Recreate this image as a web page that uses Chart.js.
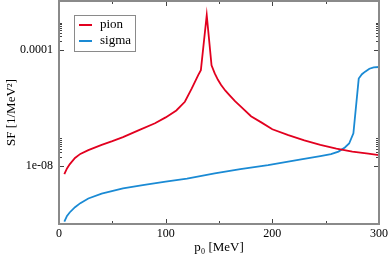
<!DOCTYPE html>
<html>
<head>
<meta charset="utf-8">
<script src="https://cdn.jsdelivr.net/npm/chart.js@4/dist/chart.umd.min.js"></script>
<style>
  html, body { margin: 0; padding: 0; background: #fff; }
  canvas { display: block; }
</style>
</head>
<body>
<canvas id="sfChart" width="390" height="256"></canvas>
<script>
// ---------- Data ----------
const pionP = [5, 7.5, 10, 15, 20, 27.5, 40, 50, 60, 75, 90, 100, 110, 118, 124.5, 130.5, 133, 138.5,
    143, 146, 149, 152, 156, 160, 165, 170, 180, 190, 200, 215, 230, 245, 260, 275, 290, 300];
const pionSF = [5.25e-9, 8.3e-9, 1.15e-8, 1.9e-8, 2.63e-8, 3.55e-8, 5.37e-8, 7.24e-8, 1.0e-7, 1.74e-7,
    3.02e-7, 4.79e-7, 8.3e-7, 1.66e-6, 4.8e-6, 1.38e-5, 2.04e-5, 1.62e-3,
    3.0e-5, 1.58e-5, 9.5e-6, 6.3e-6, 4.0e-6, 2.75e-6, 1.74e-6, 1.17e-6, 5.25e-7, 3.16e-7, 1.86e-7,
    1.17e-7, 7.76e-8, 5.37e-8, 3.98e-8, 3.16e-8, 2.69e-8, 2.4e-8];

const sigmaP = [5, 7.5, 10, 15, 20, 27.5, 40, 60, 80, 100, 120, 146, 170, 196, 227, 245, 255, 262,
    268, 272, 276, 281, 284, 287, 291, 295, 300];
const sigmaSF = [1.2e-10, 1.9e-10, 2.5e-10, 3.8e-10, 5.25e-10, 7.6e-10, 1.12e-9, 1.7e-9, 2.24e-9,
    2.88e-9, 3.7e-9, 5.6e-9, 7.9e-9, 1.07e-8, 1.7e-8, 2.19e-8, 2.57e-8, 3.16e-8,
    4.37e-8, 6.0e-8, 1.35e-7, 1.05e-5, 1.48e-5, 1.82e-5, 2.29e-5, 2.57e-5, 2.63e-5];

const xTicks = [0, 100, 200, 300];
const xMinorTicks = [50, 150, 250];
const yTicks = [1e-8, 1e-4];
const yTickLabels = ["1e-08", "0.0001"];

const FONT = "'Liberation Serif', 'Times New Roman', serif";
const FRAME = "#8a8a8a";

function toPoints(xs, ys) {
    return xs.map((x, i) => ({ x: x, y: ys[i] }));
}

// ---------- Frame, ticks and legend ----------
const framePlugin = {
    id: "frame",
    afterDraw(chart) {
        const ctx = chart.ctx;
        const a = chart.chartArea;
        const xs = chart.scales.x;
        const ys = chart.scales.y;
        ctx.save();

        // inward ticks on all four sides
        ctx.strokeStyle = "#444";
        ctx.lineWidth = 1;
        ctx.beginPath();
        const xTick = (v, len) => {
            const px = Math.round(xs.getPixelForValue(v)) + 0.5;
            ctx.moveTo(px, a.bottom); ctx.lineTo(px, a.bottom - len);
            ctx.moveTo(px, a.top); ctx.lineTo(px, a.top + len);
        };
        const yTick = (v, len) => {
            const py = Math.round(ys.getPixelForValue(v)) + 0.5;
            ctx.moveTo(a.left, py); ctx.lineTo(a.left + len, py);
            ctx.moveTo(a.right, py); ctx.lineTo(a.right - len, py);
        };
        xTicks.forEach(v => xTick(v, 5));
        xMinorTicks.forEach(v => xTick(v, 3));
        yTicks.forEach(v => {
            yTick(v, 5);
            for (let m = 2; m <= 9; m++) yTick(v * m, 3);
        });
        ctx.stroke();

        // frame
        ctx.strokeStyle = FRAME;
        ctx.lineWidth = 2;
        ctx.strokeRect(a.left, a.top, a.right - a.left, a.bottom - a.top);

        // legend box
        ctx.lineWidth = 1;
        ctx.strokeStyle = FRAME;
        ctx.strokeRect(74.5, 15.5, 61, 36);
        ctx.font = "13px " + FONT;
        ctx.fillStyle = "#000";
        ctx.textBaseline = "middle";
        chart.data.datasets.forEach((ds, i) => {
            const y = 25 + i * 16;
            ctx.strokeStyle = ds.borderColor;
            ctx.lineWidth = 2;
            ctx.beginPath();
            ctx.moveTo(79, y); ctx.lineTo(92, y);
            ctx.stroke();
            ctx.fillText(ds.label, 100, y);
        });
        ctx.restore();
    }
};

// ---------- Chart ----------
new Chart(document.getElementById("sfChart"), {
    type: "line",
    data: {
        datasets: [
            { label: "pion", data: toPoints(pionP, pionSF), borderColor: "#e2001f", borderWidth: 1.8, pointRadius: 0, tension: 0 },
            { label: "sigma", data: toPoints(sigmaP, sigmaSF), borderColor: "#1a8ad4", borderWidth: 1.8, pointRadius: 0, tension: 0 }
        ]
    },
    options: {
        responsive: false,
        animation: false,
        events: [],
        layout: { padding: { top: 1, right: 11, left: 0, bottom: 0 } },
        plugins: { legend: { display: false }, tooltip: { enabled: false } },
        scales: {
            x: {
                type: "linear",
                min: 0,
                max: 300,
                afterBuildTicks: s => { s.ticks = xTicks.map(v => ({ value: v })); },
                afterFit: s => { s.height = 32; s.paddingLeft = 0; s.paddingRight = 0; },
                grid: { display: false, drawTicks: false },
                border: { display: false },
                ticks: { color: "#000", font: { family: FONT, size: 12 }, padding: 3, maxRotation: 0 },
                title: { display: true, text: "p₀ [MeV]", color: "#000", font: { family: FONT, size: 13 }, padding: { top: 0, bottom: 1 } }
            },
            y: {
                type: "logarithmic",
                min: 1e-10,
                max: 5e-3,
                afterBuildTicks: s => { s.ticks = yTicks.map(v => ({ value: v })); },
                afterFit: s => { s.width = 59; s.paddingTop = 0; s.paddingBottom = 0; },
                grid: { display: false, drawTicks: false },
                border: { display: false },
                ticks: {
                    color: "#000",
                    font: { family: FONT, size: 12 },
                    padding: 6,
                    callback: v => yTickLabels[yTicks.indexOf(v)]
                },
                title: { display: true, text: "SF [1/MeV²]", color: "#000", font: { family: FONT, size: 13 }, padding: { top: 4, bottom: 0 } }
            }
        }
    },
    plugins: [framePlugin]
});
</script>
</body>
</html>
